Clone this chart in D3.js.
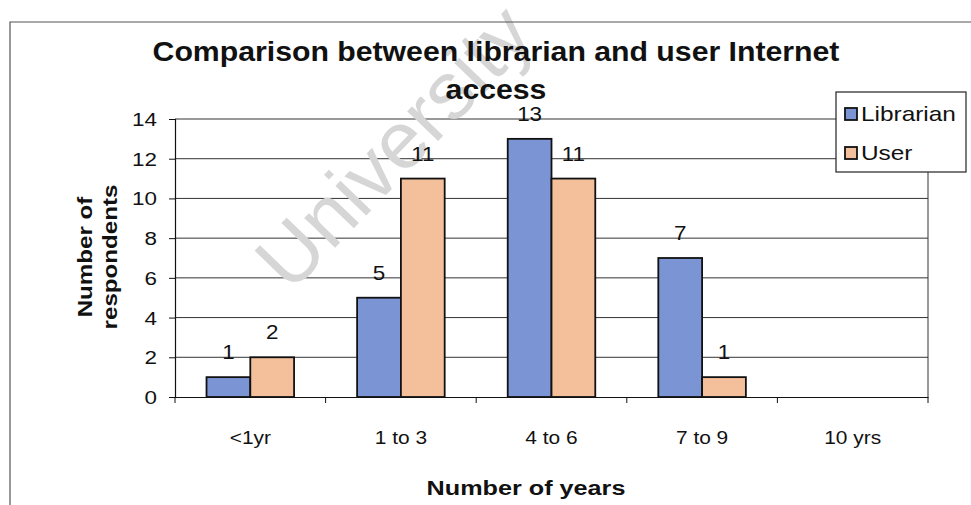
<!DOCTYPE html>
<html>
<head>
<meta charset="utf-8">
<script src="https://cdn.jsdelivr.net/npm/d3@7"></script>
<style>
  body { margin: 0; background: #fff; }
  svg { display: block; font-family: "Liberation Sans", Arial, sans-serif; }
</style>
</head>
<body>
<svg width="971" height="505"></svg>
<script>
// data
var categories = ["<1yr", "1 to 3", "4 to 6", "7 to 9", "10 yrs"];
var seriesNames = ["Librarian", "User"];
var librarian = [1, 5, 13, 7, 0];
var user = [2, 11, 11, 1, 0];
var yTicks = [0, 2, 4, 6, 8, 10, 12, 14];
var colors = ["#7b94d4", "#f4c09c"];

var svg = d3.select("svg"),
	margin = {top: 119, right: 43, bottom: 108, left: 175},
	width = 971 - margin.left - margin.right,
	height = 505 - margin.top - margin.bottom;

// layers: grid under the scan watermark, everything else on top
var gridLayer = svg.append("g").attr("transform", "translate(" + margin.left + "," + margin.top + ")");
var wmLayer = svg.append("g");
var front = svg.append("g");
var g = front.append("g").attr("transform", "translate(" + margin.left + "," + margin.top + ")");

// text helper: scan is a bit stretched sideways, so stretch text with sx
function label(parent, x, y, txt, size, weight, anchor, sx) {
	return parent.append("text")
		.attr("transform", "translate(" + x + "," + y + ") scale(" + (sx || 1) + ",1)")
		.attr("text-anchor", anchor || "middle")
		.attr("font-size", size + "px")
		.attr("font-weight", weight || "normal")
		.attr("fill", "#111")
		.text(txt);
}

// outer frame (only top and left survive the scan)
front.append("path")
	.attr("d", "M10,505 V22 H971")
	.attr("fill", "none")
	.attr("stroke", "#555")
	.attr("stroke-width", 1.2);

// title
label(front, 496, 61, "Comparison between librarian and user Internet", 28, "bold", "middle", 1.08);
label(front, 496, 99, "access", 28, "bold", "middle", 1.08);

var x0 = d3.scaleBand()
	.domain(categories)
	.range([0, width]);
var x1 = d3.scaleBand()
	.domain(seriesNames)
	.range([0, x0.bandwidth()])
	.paddingOuter(0.72);
var y = d3.scaleLinear()
	.domain([0, 14])
	.range([height, 0]);

// gridlines
gridLayer.selectAll("line")
	.data(yTicks.filter(function(d) { return d > 0; }))
	.enter().append("line")
	.attr("x1", 0)
	.attr("x2", width)
	.attr("y1", function(d) { return y(d); })
	.attr("y2", function(d) { return y(d); })
	.attr("stroke", "#333")
	.attr("stroke-width", 1);

// right edge of plot area
gridLayer.append("line")
	.attr("x1", width).attr("x2", width)
	.attr("y1", 0).attr("y2", height)
	.attr("stroke", "#333");

// scanned watermark
label(wmLayer, 0, 0, "University", 81, "normal", "middle", 1)
	.attr("transform", "translate(414,166) rotate(-46)")
	.attr("fill", "#d6d6d6");

// bars
var rows = categories.map(function(c, i) {
	return {cat: c, vals: [librarian[i], user[i]]};
});
var grp = g.selectAll(".grp")
	.data(rows)
	.enter().append("g")
	.attr("class", "grp")
	.attr("transform", function(d) { return "translate(" + x0(d.cat) + ",0)"; });

grp.selectAll("rect")
	.data(function(d) { return d.vals.filter(function(v) { return v > 0; }).length ? d.vals.map(function(v, i) { return {s: seriesNames[i], v: v, i: i}; }) : []; })
	.enter().append("rect")
	.attr("x", function(d) { return x1(d.s); })
	.attr("y", function(d) { return y(d.v); })
	.attr("width", x1.bandwidth())
	.attr("height", function(d) { return height - y(d.v); })
	.attr("fill", function(d) { return colors[d.i]; })
	.attr("stroke", "#111")
	.attr("stroke-width", 1.8);

// value labels
grp.each(function(d) {
	var sel = d3.select(this);
	d.vals.forEach(function(v, i) {
		if (v > 0) label(sel, x1(seriesNames[i]) + x1.bandwidth() / 2, y(v) - 18, v, 20, "normal", "middle", 1.12);
	});
});

// y axis
var yAxis = g.append("g")
	.call(d3.axisLeft(y).tickValues(yTicks).tickSize(6).tickFormat(""));
yAxis.select(".domain").attr("stroke", "#111").attr("stroke-width", 1.2);
yAxis.selectAll(".tick line").attr("stroke", "#111");
yTicks.forEach(function(t) {
	label(g, -18, y(t) + 7, t, 19, "normal", "end", 1.18);
});

// x axis
var xAxis = g.append("g")
	.attr("transform", "translate(0," + height + ")")
	.call(d3.axisBottom(x0).tickSize(0).tickFormat(""));
xAxis.select(".domain").attr("stroke", "#111").attr("stroke-width", 1.2);
xAxis.selectAll(".sep")
	.data(categories.map(function(c) { return x0(c); }).concat([width]))
	.enter().append("line")
	.attr("class", "sep")
	.attr("x1", function(d) { return d; })
	.attr("x2", function(d) { return d; })
	.attr("y1", 0)
	.attr("y2", 6)
	.attr("stroke", "#111");
categories.forEach(function(c) {
	label(g, x0(c) + x0.bandwidth() / 2, height + 47, c, 19, "normal", "middle", 1.1);
});

// axis titles
label(front, 526, 495, "Number of years", 21, "bold", "middle", 1.2);
var yt = front.append("g").attr("transform", "translate(0,257) rotate(-90)");
label(yt, 0, 92, "Number of", 21, "bold", "middle", 1.15);
label(yt, 0, 117, "respondents", 21, "bold", "middle", 1.15);

// legend
var leg = front.append("g").attr("transform", "translate(836,92)");
leg.append("rect")
	.attr("width", 130)
	.attr("height", 80)
	.attr("fill", "#fff")
	.attr("stroke", "#222")
	.attr("stroke-width", 1.2);
seriesNames.forEach(function(s, i) {
	var ly = 22 + i * 39;
	leg.append("rect")
		.attr("x", 9)
		.attr("y", ly - 6)
		.attr("width", 12)
		.attr("height", 12)
		.attr("fill", colors[i])
		.attr("stroke", "#111")
		.attr("stroke-width", 1.8);
	label(leg, 25, ly + 7, s, 20, "normal", "start", 1.22);
});
</script>
</body>
</html>
